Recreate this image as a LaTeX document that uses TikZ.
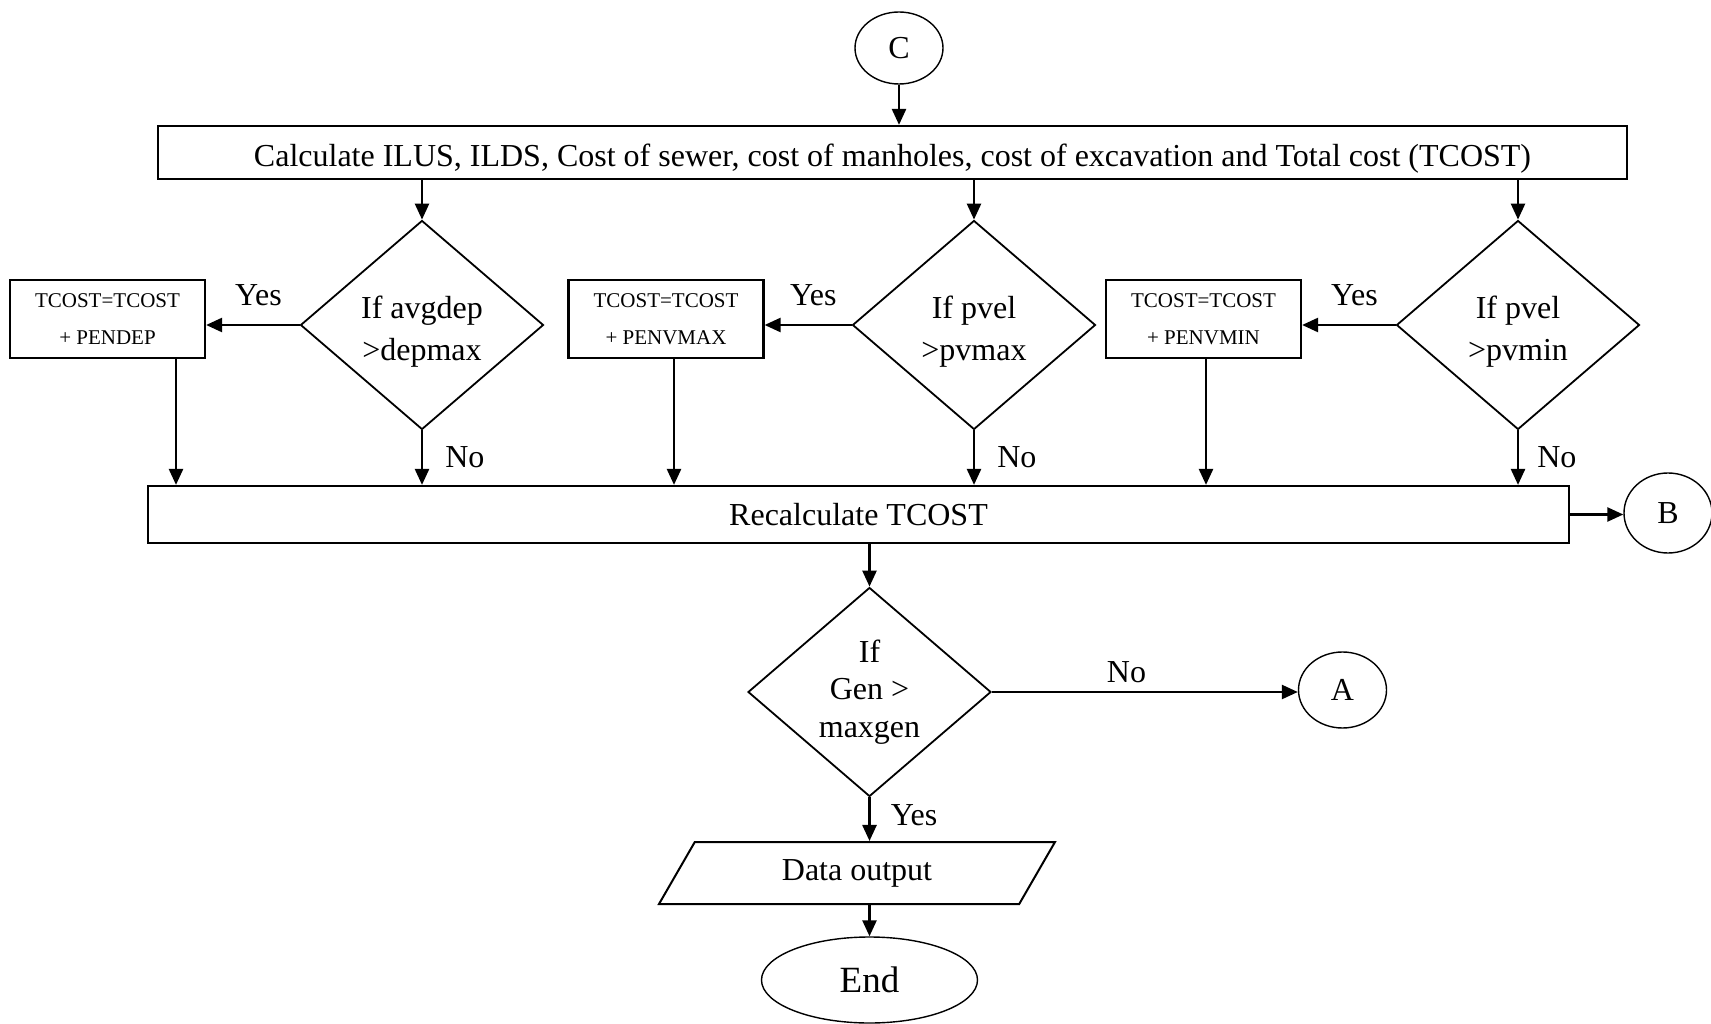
\documentclass[tikz,border=0pt]{standalone}
\usepackage{fontspec}
\setmainfont{Liberation Serif}
\usetikzlibrary{shapes.geometric,arrows.meta,positioning}

\begin{document}
\begin{tikzpicture}[x=1pt, y=1pt, node distance=552pt,
    box/.style={rectangle, draw, line width=2.2pt, inner sep=0pt, font=\fontsize{32}{38}\selectfont},
    penbox/.style={rectangle, draw, line width=2.2pt, inner sep=0pt, align=center, minimum width=195pt, minimum height=78pt, font=\fontsize{21}{37}\selectfont},
    dec/.style={diamond, draw, line width=1.8pt, aspect=1.16, inner sep=0pt, align=center, minimum width=243pt, minimum height=209pt, font=\fontsize{32}{42}\selectfont},
    conn/.style={ellipse, draw, line width=1.4pt, inner sep=0pt, minimum width=88pt, minimum height=78pt, font=\fontsize{32}{38}\selectfont},
    io/.style={trapezium, trapezium left angle=37.8, trapezium right angle=142.2, trapezium stretches body=true, draw, line width=2pt, inner sep=0pt, minimum width=396pt, minimum height=62pt, font=\fontsize{32}{38}\selectfont},
    arr/.style={-{Triangle[length=16pt, width=14pt]}, line width=2.5pt},
    lbl/.style={inner sep=0pt, font=\fontsize{32}{38}\selectfont}]

    \useasboundingbox (0,0) rectangle (1711,-1024);

    \node[conn, minimum height=72pt] (C) at (899,-48) {C};
    \node[box, minimum width=1469pt, minimum height=53pt] (calc) at (892.5,-152.5) {\rule{0pt}{35pt}Calculate ILUS, ILDS, Cost of sewer, cost of manholes, cost of excavation and Total cost (TCOST)};

    % three penalty checks
    \node[dec] (d1) at (422,-325) {\rule{0pt}{35pt}If avgdep\\>depmax};
    \node[dec, right of=d1] (d2) {\rule{0pt}{35pt}If pvel\\>pvmax};
    \node[dec, right of=d2, node distance=544pt] (d3) {\rule{0pt}{35pt}If pvel\\>pvmin};
    \node[penbox, left of=d1, node distance=314.5pt, yshift=6pt] (b1) {TCOST=TCOST\\+ PENDEP};
    \node[penbox, left of=d2, node distance=308pt, yshift=6pt] (b2) {TCOST=TCOST\\+ PENVMAX};
    \node[penbox, left of=d3, node distance=314.5pt, yshift=6pt] (b3) {TCOST=TCOST\\+ PENVMIN};

    \node[box, minimum width=1421pt, minimum height=57pt] (recalc) at (858.5,-514.5) {Recalculate TCOST};
    \node[conn, minimum height=80pt] (B) at (1668,-513) {B};
    \node[dec, font=\fontsize{32}{37.5}\selectfont] (d4) at (869.5,-692) {If\\Gen >\\maxgen};
    \node[conn, minimum height=76pt] (A) at (1342.5,-690) {A};
    \node[io] (out) at (857,-873) {Data output};
    \node[conn, minimum width=216pt, minimum height=86pt, font=\fontsize{37}{44}\selectfont] (end) at (869.5,-980) {End};

    \draw[arr] (C.south) -- (C.south |- calc.north);
    \draw[arr] (d1.north |- calc.south) -- (d1.north);
    \draw[arr] (d2.north |- calc.south) -- (d2.north);
    \draw[arr] (d3.north |- calc.south) -- (d3.north);

    \draw[arr] (d1.west) -- (d1.west -| b1.east) node[lbl, pos=0.44, above=18pt] {Yes};
    \draw[arr] (d2.west) -- (d2.west -| b2.east) node[lbl, pos=0.44, above=18pt] {Yes};
    \draw[arr] (d3.west) -- (d3.west -| b3.east) node[lbl, pos=0.44, above=18pt] {Yes};

    \draw[arr] (d1.south) -- (d1.south |- recalc.north) node[lbl, pos=0.5, right=22pt] {No};
    \draw[arr] (d2.south) -- (d2.south |- recalc.north) node[lbl, pos=0.5, right=22pt] {No};
    \draw[arr] (d3.south) -- (d3.south |- recalc.north) node[lbl, pos=0.5, right=18pt] {No};

    \draw[arr] ([xshift=68.5pt]b1.south) -- ([xshift=68.5pt]b1.south |- recalc.north);
    \draw[arr] ([xshift=8pt]b2.south) -- ([xshift=8pt]b2.south |- recalc.north);
    \draw[arr] ([xshift=2.5pt]b3.south) -- ([xshift=2.5pt]b3.south |- recalc.north);

    \draw[arr] (recalc.east) -- (recalc.east -| B.west);
    \draw[arr] (d4.north |- recalc.south) -- (d4.north);
    \draw[arr] (d4.east) -- (d4.east -| A.west) node[lbl, pos=0.44, above=8pt] {No};
    \draw[arr] (d4.south) -- (d4.south |- out.north) node[lbl, pos=0.41, right=20pt] {Yes};
    \draw[arr] (end.north |- out.south) -- (end.north);
\end{tikzpicture}
\end{document}
